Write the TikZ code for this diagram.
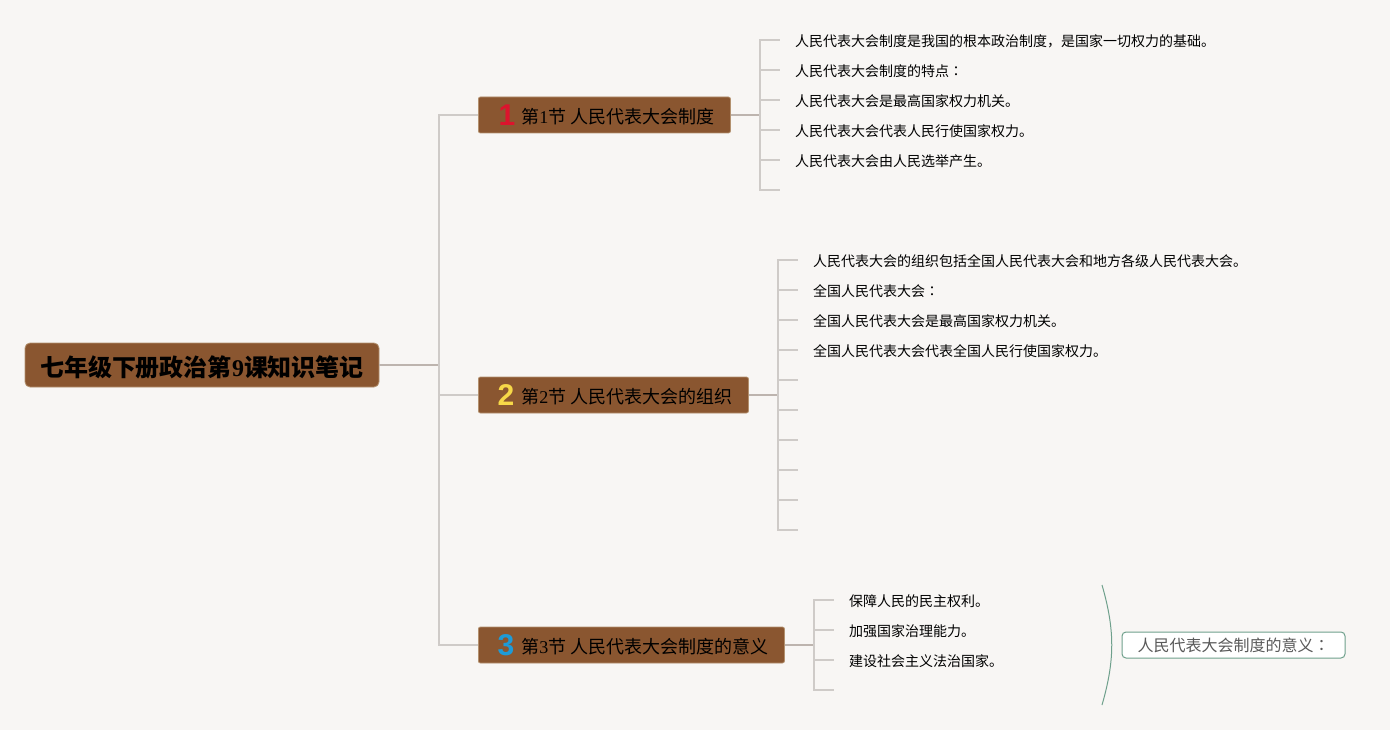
\documentclass[tikz,border=0pt]{standalone}
\usepackage{fontspec}
\setmainfont{Liberation Serif}
\newfontfamily\cjk{Noto Sans CJK SC}
\newfontfamily\cjktc{Noto Sans CJK TC}
\newfontfamily\numfont{Liberation Sans}
\usetikzlibrary{positioning}
\definecolor{paper}{HTML}{F8F6F4}
\definecolor{bark}{HTML}{8A5630}
\definecolor{barkedge}{HTML}{B3916F}
\definecolor{twig}{HTML}{CFCBC8}
\definecolor{stem}{HTML}{BDB4AE}
\definecolor{sage}{HTML}{6FA08C}

\begin{document}
\begin{tikzpicture}[
  x=1pt, y=-1pt,
  rootbox/.style={draw=barkedge, fill=bark, rounded corners=5pt, line width=0.8pt, minimum height=44pt, inner sep=0pt, text height=24pt, text depth=2pt, font=\fontsize{24}{28}\selectfont\bfseries\cjk},
  secbox/.style={anchor=west, draw=barkedge, fill=bark, rounded corners=2pt, line width=0.8pt, minimum height=36pt, inner ysep=0pt, inner xsep=16pt, text height=19pt, text depth=2pt, text=black, font=\fontsize{18}{22}\selectfont\cjk, execute at begin node={\hspace*{27pt}}},
  badge/.style={font=\fontsize{30}{30}\selectfont\bfseries\numfont, inner sep=0pt},
  leaf/.style={anchor=west, inner ysep=2pt, inner xsep=15pt, text height=15pt, text depth=2pt, font=\fontsize{14}{17}\selectfont\cjk},
  sumbox/.style={draw=sage, fill=white, rounded corners=4pt, line width=1pt, minimum width=223pt, minimum height=26pt, inner sep=0pt, text=black!65, font=\fontsize{16}{19}\selectfont\cjk},
  stemline/.style={draw=stem, line width=1.5pt},
  twigline/.style={draw=twig, line width=1.3pt}
]
  \useasboundingbox[fill=paper] (0,0) rectangle (1390,730);

  \node[rootbox, minimum width=354pt] (root) at (202,365) {七年级下册政治第{\rmfamily 9}课知识笔记};
  \node[secbox] (sec1) at (478,115) {第{\rmfamily 1}节 人民代表大会制度};
  \node[secbox] (sec2) at (478,395) {第{\rmfamily 2}节 人民代表大会的组织};
  \node[secbox] (sec3) at (478,645) {第{\rmfamily 3}节 人民代表大会制度的意义};
  \node[badge, text={rgb,255:red,220;green,20;blue,45}] (num1) at (507,115) {1};
  \node[badge, text={rgb,255:red,247;green,216;blue,72}] (num2) at (506,395) {2};
  \node[badge, text={rgb,255:red,30;green,155;blue,215}] (num3) at (506,645) {3};

  \coordinate (rootfork) at (439,365);
  \coordinate (fork1) at (760,115);
  \coordinate (fork2) at (778,395);
  \coordinate (fork3) at (814,645);

  % first section
  \node[leaf] (leaf11) at (780,40) {人民代表大会制度是我国的根本政治制度，是国家一切权力的基础。};
  \node[leaf] (leaf12) at (780,70) {人民代表大会制度的特点{\cjktc ：}};
  \node[leaf] (leaf13) at (780,100) {人民代表大会是最高国家权力机关。};
  \node[leaf] (leaf14) at (780,130) {人民代表大会代表人民行使国家权力。};
  \node[leaf] (leaf15) at (780,160) {人民代表大会由人民选举产生。};
  \coordinate (leaf16) at (780,190);

  % second section
  \node[leaf] (leaf21) at (798,260) {人民代表大会的组织包括全国人民代表大会和地方各级人民代表大会。};
  \node[leaf] (leaf22) at (798,290) {全国人民代表大会{\cjktc ：}};
  \node[leaf] (leaf23) at (798,320) {全国人民代表大会是最高国家权力机关。};
  \node[leaf] (leaf24) at (798,350) {全国人民代表大会代表全国人民行使国家权力。};
  \coordinate (leaf25) at (798,380);
  \coordinate (leaf26) at (798,410);
  \coordinate (leaf27) at (798,440);
  \coordinate (leaf28) at (798,470);
  \coordinate (leaf29) at (798,500);
  \coordinate (leaf210) at (798,530);

  % third section
  \node[leaf] (leaf31) at (834,600) {保障人民的民主权利。};
  \node[leaf] (leaf32) at (834,630) {加强国家治理能力。};
  \node[leaf] (leaf33) at (834,660) {建设社会主义法治国家。};
  \coordinate (leaf34) at (834,690);

  \node[sumbox] (sum3) at (1233.5,645) {人民代表大会制度的意义{\cjktc ：}};
  \coordinate (bracetop) at (1102,585);
  \coordinate (bracebot) at (1102,705);

  \draw[stemline] (root.east) -- (rootfork);
  \draw[twigline] (rootfork) |- (sec1.west);
  \draw[twigline] (rootfork) -- (rootfork |- sec2.west) -- (sec2.west);
  \draw[twigline] (rootfork) |- (sec3.west);

  \draw[stemline] (sec1.east) -- (fork1);
  \draw[stemline] (sec2.east) -- (fork2);
  \draw[stemline] (sec3.east) -- (fork3);

  \draw[twigline] (fork1) |- (leaf11.west);
  \draw[twigline] (fork1) |- (leaf12.west);
  \draw[twigline] (fork1) |- (leaf13.west);
  \draw[twigline] (fork1) |- (leaf14.west);
  \draw[twigline] (fork1) |- (leaf15.west);
  \draw[twigline] (fork1) |- (leaf16);

  \draw[twigline] (fork2) |- (leaf21.west);
  \draw[twigline] (fork2) |- (leaf22.west);
  \draw[twigline] (fork2) |- (leaf23.west);
  \draw[twigline] (fork2) |- (leaf24.west);
  \draw[twigline] (fork2) |- (leaf25);
  \draw[twigline] (fork2) |- (leaf26);
  \draw[twigline] (fork2) |- (leaf27);
  \draw[twigline] (fork2) |- (leaf28);
  \draw[twigline] (fork2) |- (leaf29);
  \draw[twigline] (fork2) |- (leaf210);

  \draw[twigline] (fork3) |- (leaf31.west);
  \draw[twigline] (fork3) |- (leaf32.west);
  \draw[twigline] (fork3) |- (leaf33.west);
  \draw[twigline] (fork3) |- (leaf34);

  \draw[draw=sage, line width=1pt] (bracetop) .. controls (1115,630) and (1115,660) .. (bracebot);
\end{tikzpicture}
\end{document}
